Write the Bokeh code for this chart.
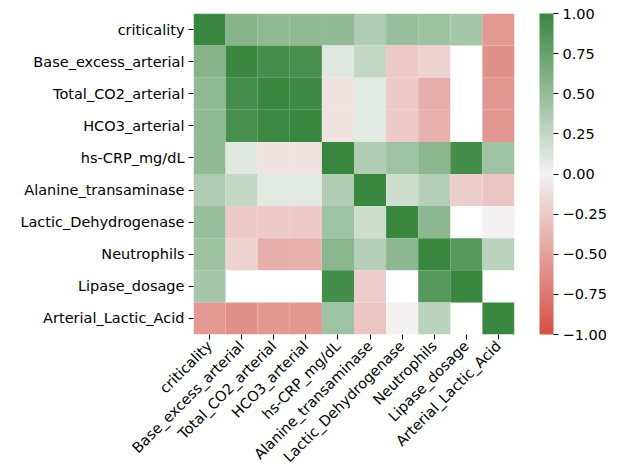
from bokeh.plotting import figure
from bokeh.models import ColumnDataSource, LinearColorMapper, ColorBar, FixedTicker, CustomJSTickFormatter
from bokeh.embed import file_html
from bokeh.resources import INLINE

labels = ["criticality", "Base_excess_arterial", "Total_CO2_arterial", "HCO3_arterial",
          "hs-CRP_mg/dL", "Alanine_transaminase", "Lactic_Dehydrogenase", "Neutrophils",
          "Lipase_dosage", "Arterial_Lactic_Acid"]

r_criticality = [1.00, 0.58, 0.53, 0.53, 0.52, 0.36, 0.48, 0.46, 0.41, -0.55]
r_base_excess = [0.58, 1.00, 0.93, 0.92, 0.10, 0.25, -0.25, -0.20, None, -0.60]
r_total_co2   = [0.53, 0.93, 1.00, 0.98, -0.10, 0.08, -0.25, -0.42, None, -0.56]
r_hco3        = [0.53, 0.92, 0.98, 1.00, -0.10, 0.08, -0.25, -0.40, None, -0.56]
r_crp         = [0.52, 0.10, -0.10, -0.10, 1.00, 0.35, 0.45, 0.56, 0.94, 0.45]
r_alt         = [0.36, 0.25, 0.08, 0.08, 0.35, 1.00, 0.20, 0.33, -0.22, -0.28]
r_ldh         = [0.48, -0.25, -0.25, -0.25, 0.45, 0.20, 1.00, 0.55, None, -0.01]
r_neut        = [0.46, -0.20, -0.42, -0.40, 0.56, 0.33, 0.55, 1.00, 0.84, 0.30]
r_lipase      = [0.41, None, None, None, 0.94, -0.22, None, 0.84, 1.00, None]
r_lactic      = [-0.55, -0.60, -0.56, -0.56, 0.45, -0.28, -0.01, 0.30, None, 1.00]

rows = [r_criticality, r_base_excess, r_total_co2, r_hco3, r_crp,
        r_alt, r_ldh, r_neut, r_lipase, r_lactic]

cbar_ticks = [-1.0, -0.75, -0.5, -0.25, 0.0, 0.25, 0.5, 0.75, 1.0]

# diverging palette red -> light grey -> green (linear RGB blend)
neg = (214, 80, 70)
mid = (242, 242, 242)
pos = (58, 135, 64)
palette = []
for i in range(256):
    t = i / 255 * 2 - 1
    a, b, f = (mid, neg, -t) if t < 0 else (mid, pos, t)
    c = tuple(int(round(a[k] + (b[k] - a[k]) * f)) for k in range(3))
    palette.append("#%02x%02x%02x" % c)

xs, ys, vs = [], [], []
for yi, row in zip(labels, rows):
    for xi, v in zip(labels, row):
        if v is None:
            continue
        xs.append(xi)
        ys.append(yi)
        vs.append(v)
src = ColumnDataSource(dict(x=xs, y=ys, v=vs))

mapper = LinearColorMapper(palette=palette, low=-1, high=1)

FONT = "DejaVu Sans"
FS = "14.5px"

p = figure(x_range=labels, y_range=list(reversed(labels)),
           frame_width=321, frame_height=321,
           output_backend="svg", toolbar_location=None,
           min_border_left=193, min_border_top=13, min_border_bottom=128, min_border_right=8)
p.rect(x="x", y="y", width=1, height=1, source=src,
       fill_color={"field": "v", "transform": mapper}, line_color=None)

p.outline_line_color = None
p.grid.grid_line_color = None
for ax in (p.xaxis, p.yaxis):
    ax.axis_line_color = None
    ax.major_tick_in = 0
    ax.major_tick_out = 5
    ax.major_tick_line_color = "black"
    ax.minor_tick_line_color = None
    ax.major_label_text_font = FONT
    ax.major_label_text_font_size = FS
    ax.major_label_text_color = "black"
    ax.major_label_standoff = 4
p.xaxis.major_label_orientation = 0.785398

cb = ColorBar(color_mapper=mapper, width=14, height=321,
              ticker=FixedTicker(ticks=cbar_ticks),
              formatter=CustomJSTickFormatter(code="return tick.toFixed(2).replace('-', '\u2212');"),
              major_tick_in=0, major_tick_out=5, major_tick_line_color="black",
              minor_tick_line_color=None, bar_line_color=None,
              major_label_text_font=FONT, major_label_text_font_size=FS,
              major_label_text_color="black", label_standoff=4,
              padding=0, margin=0, location=(25, 0),
              background_fill_alpha=0, border_line_color=None)
p.add_layout(cb, "right")

open("out.html", "w").write(file_html(p, INLINE))
